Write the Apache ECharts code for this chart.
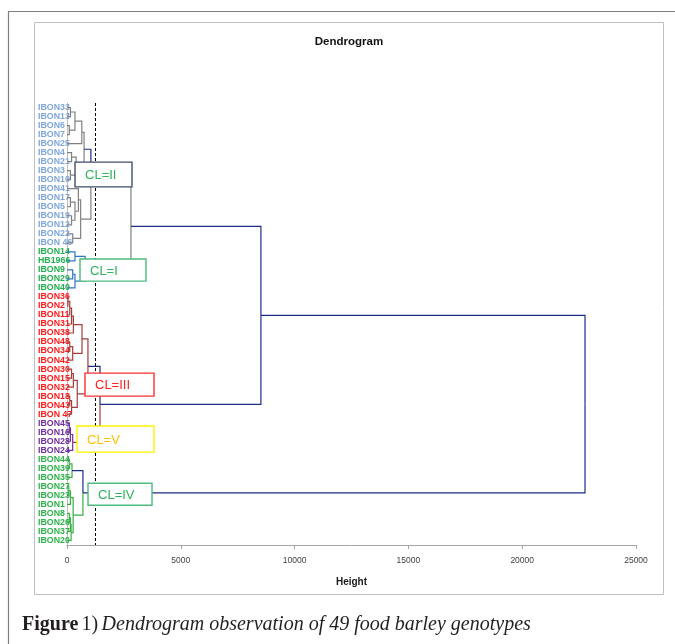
<!DOCTYPE html>
<html><head><meta charset="utf-8">
<script src="https://cdn.jsdelivr.net/npm/echarts@6/dist/echarts.min.js"></script>
<style>html,body{margin:0;padding:0;background:#fff}#c{width:675px;height:644px}</style>
</head><body><div id="c"></div>
<script>
// ---------- DATA ----------
const genotypes = ['IBON33','IBON13','IBON6','IBON7','IBON25','IBON4','IBON21','IBON3','IBON10','IBON41','IBON17','IBON5','IBON19','IBON12','IBON22','IBON 46',
  'IBON14','HB1966','IBON9','IBON29','IBON40',
  'IBON36','IBON2','IBON11','IBON31','IBON38','IBON48','IBON34','IBON42','IBON30','IBON15','IBON32','IBON18','IBON43','IBON 47',
  'IBON45','IBON16','IBON28','IBON24',
  'IBON44','IBON39','IBON35','IBON27','IBON23','IBON1','IBON8','IBON26','IBON37','IBON20'];
const clusterNames = ['CL=II','CL=I','CL=III','CL=V','CL=IV'];
const clusterSizes = [16, 5, 14, 4, 10];
// linkage: node ids 0..48 are leaves, 49+k is merge k
const mergeLeft  = [0,2,49,51,5,7,53,52,10,12,57,9,14,60,56,16,18,65,64,63,21,69,70,71,26,73,72,29,76,32,78,77,75,35,82,83,81,68,39,87,42,89,45,91,92,90,88,86];
const mergeRight = [1,3,50,4,6,8,54,55,11,13,58,59,15,61,62,17,19,20,66,67,22,23,24,25,27,28,74,30,31,33,34,79,80,36,37,38,84,85,40,41,43,44,46,47,48,93,94,95];
const mergeHeight = [150,100,350,650,200,150,400,750,150,200,350,500,250,600,1050,350,250,350,800,2810,40,120,200,280,120,250,660,200,280,120,200,450,920,100,150,250,1450,8520,100,220,80,150,100,150,180,270,700,22760];
const cutHeight = 1250;
const heightMin = 0, heightMax = 25000, heightStep = 5000;

// ---------- STYLE ----------
const linkPalette = {g:'#808080', b:'#2f78c0', r:'#a23c3c', p:'#7030a0', v:'#35b040', n:'#1f2d8a'};
const linkColours = [].concat(
  Array(14).fill('gg'), ['ng'], Array(4).fill('bb'), ['gg'], Array(13).fill('rr'),
  Array(3).fill('pp'), ['nr'], ['nn'], Array(8).fill('vv'), ['nv'], ['nn']);
const clusterLabelColours = ['#7ea6dc', '#22b04f', '#ff1a1a', '#7030a0', '#2db34a'];
const boxStyles = [
  {stroke:'#3f4f6f', text:'#2db35a'},
  {stroke:'#4cbb7f', text:'#2db35a'},
  {stroke:'#ff3030', text:'#ff2020'},
  {stroke:'#fff200', text:'#ffc000'},
  {stroke:'#4cbb7f', text:'#2db35a'}];
// annotation box extents in data units [heightFrom, heightTo, rowFrom, rowTo]
const boxLayout = [
  [352, 2856, 6.05, 8.8],
  [571, 3471, 16.8, 19.25],
  [791, 3823, 29.45, 32.0],
  [439, 3823, 35.3, 38.2],
  [923, 3735, 41.65, 44.1]];

// ---------- BUILD ----------
const nLeaf = genotypes.length;
const nodeH = genotypes.map(() => 0);
const nodeRow = genotypes.map((_, i) => i);
mergeLeft.forEach((a, k) => {
  const b = mergeRight[k];
  nodeH.push(mergeHeight[k]);
  nodeRow.push((nodeRow[a] + nodeRow[b]) / 2);
});
const linkData = mergeLeft.map((a, k) => {
  const b = mergeRight[k];
  return [nodeH[a], nodeRow[a], nodeH[b], nodeRow[b], mergeHeight[k], nodeRow[nLeaf + k], k];
});
const labelColour = [];
clusterSizes.forEach((s, c) => { for (let i = 0; i < s; i++) labelColour.push(clusterLabelColours[c]); });
const boxData = boxLayout.map((b, i) => b.concat([i]));

const chart = echarts.init(document.getElementById('c'), null, {renderer: 'canvas'});
chart.setOption({
  backgroundColor: '#fff',
  animation: false,
  grid: {left: 67, right: 39, top: 103, height: 442},
  xAxis: {
    type: 'value', min: heightMin, max: heightMax, interval: heightStep,
    splitLine: {show: false},
    axisLine: {show: true, onZero: false, lineStyle: {color: '#a6a6a6'}},
    axisTick: {show: true, length: 4, lineStyle: {color: '#a6a6a6'}},
    axisLabel: {fontSize: 8.5, color: '#404040', margin: 11, fontFamily: 'Liberation Sans',
      formatter: v => String(v)},
    name: 'Height', nameLocation: 'middle', nameGap: 32,
    nameTextStyle: {fontSize: 10, fontWeight: 'bold', color: '#1a1a1a', fontFamily: 'Liberation Sans'}
  },
  yAxis: [{
    type: 'category', data: genotypes, inverse: true,
    axisLine: {show: true, onZero: false, lineStyle: {color: '#bfbfbf'}},
    axisTick: {show: false},
    axisLabel: {interval: 0, align: 'left', margin: 29, fontSize: 8.8, fontWeight: 'bold',
      fontFamily: 'Liberation Sans', color: (v, i) => labelColour[i]}
  }, {
    type: 'value', min: -0.5, max: 48.5, inverse: true, show: false
  }],
  series: [{
    type: 'custom', xAxisIndex: 0, yAxisIndex: 1, z: 2,
    data: linkData, encode: {x: [0, 2, 4], y: [1, 3, 5]},
    renderItem: function (params, api) {
      const k = api.value(6);
      const pA = api.coord([api.value(0), api.value(1)]);
      const cA = api.coord([api.value(4), api.value(1)]);
      const m = api.coord([api.value(4), api.value(5)]);
      const cB = api.coord([api.value(4), api.value(3)]);
      const pB = api.coord([api.value(2), api.value(3)]);
      const cols = linkColours[k];
      return {type: 'group', children: [
        {type: 'polyline', shape: {points: [pA, cA, m]}, style: {stroke: linkPalette[cols[0]], lineWidth: 1.2, fill: null}},
        {type: 'polyline', shape: {points: [m, cB, pB]}, style: {stroke: linkPalette[cols[1]], lineWidth: 1.2, fill: null}}
      ]};
    },
    markLine: {
      silent: true, symbol: ['none', 'none'], label: {show: false},
      lineStyle: {color: '#000', type: [3, 2], width: 1},
      data: [{xAxis: cutHeight}]
    }
  }, {
    type: 'custom', xAxisIndex: 0, yAxisIndex: 1, z: 5,
    data: boxData, encode: {x: [0, 1], y: [2, 3]},
    renderItem: function (params, api) {
      const i = api.value(4);
      const p1 = api.coord([api.value(0), api.value(2)]);
      const p2 = api.coord([api.value(1), api.value(3)]);
      const st = boxStyles[i];
      return {type: 'group', children: [
        {type: 'rect', shape: {x: p1[0], y: p1[1], width: p2[0] - p1[0], height: p2[1] - p1[1]},
          style: {fill: '#fff', stroke: st.stroke, lineWidth: 1.4}},
        {type: 'text', x: p1[0] + 10, y: (p1[1] + p2[1]) / 2 + 1,
          style: {text: clusterNames[i], fill: st.text, font: '13px "Liberation Sans"', align: 'left', verticalAlign: 'middle'}}
      ]};
    }
  }],
  graphic: [
    {type: 'line', shape: {x1: 8, y1: 11.5, x2: 675, y2: 11.5}, style: {stroke: '#7f7f7f', lineWidth: 1.2}, silent: true},
    {type: 'line', shape: {x1: 8.5, y1: 11, x2: 8.5, y2: 644}, style: {stroke: '#7f7f7f', lineWidth: 1.2}, silent: true},
    {type: 'rect', shape: {x: 34.5, y: 22.5, width: 629, height: 572}, style: {fill: null, stroke: '#bfbfbf', lineWidth: 1}, silent: true},
    {type: 'text', x: 349, y: 42, style: {text: 'Dendrogram', font: 'bold 11.5px "Liberation Sans"', fill: '#111', align: 'center', verticalAlign: 'middle'}, silent: true},
    {type: 'text', x: 22, y: 625, silent: true, style: {
      text: '{b|Figure} {n|1)} {i|Dendrogram observation of 49 food barley genotypes}',
      verticalAlign: 'middle', align: 'left',
      rich: {
        b: {fontFamily: 'Liberation Serif', fontSize: 20, fontWeight: 'bold', fill: '#231f20'},
        n: {fontFamily: 'Liberation Serif', fontSize: 20, fill: '#231f20'},
        i: {fontFamily: 'Liberation Serif', fontSize: 20, fontStyle: 'italic', fill: '#231f20'}
      }}}
  ]
});
</script></body></html>
